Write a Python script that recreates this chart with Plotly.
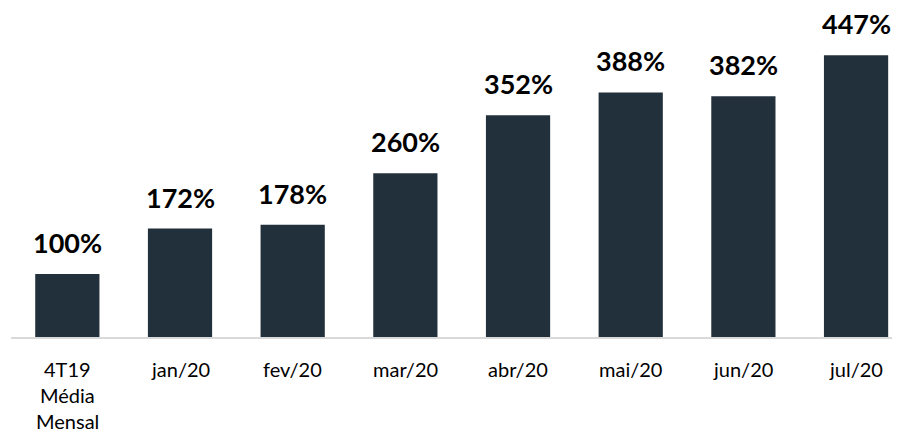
import plotly.graph_objects as go

categories = ["4T19\nMédia\nMensal", "jan/20", "fev/20", "mar/20", "abr/20", "mai/20", "jun/20", "jul/20"]
values = [100, 172, 178, 260, 352, 388, 382, 447]
labels = ["100%", "172%", "178%", "260%", "352%", "388%", "382%", "447%"]

bar_color = "#22303B"
font_family = "Lato, 'Open Sans', sans-serif"

xs = list(range(len(categories)))

fig = go.Figure()
fig.add_trace(go.Bar(x=xs, y=values, marker=dict(color=bar_color, line=dict(width=0)),
                     width=0.57, hoverinfo="skip"))

for x, v, lab in zip(xs, values, labels):
    fig.add_annotation(x=x, y=v, xref="x", yref="y", text=f"<b>{lab}</b>", showarrow=False,
                       yanchor="bottom", yshift=13, font=dict(family=font_family, size=27, color="#000000"))

for x, cat in zip(xs, categories):
    for i, line in enumerate(cat.split("\n")):
        fig.add_annotation(x=x, y=0, xref="x", yref="y", text=line, showarrow=False,
                           yanchor="middle", yshift=-(32 + 26 * i),
                           font=dict(family=font_family, size=20, color="#000000"))

fig.update_layout(
    width=900, height=435,
    margin=dict(l=3, r=8, t=0, b=106),
    paper_bgcolor="white", plot_bgcolor="white",
    showlegend=False,
    xaxis=dict(range=[-0.5, 7.39], showticklabels=False, showgrid=False, zeroline=False,
               showline=True, linecolor="#D9D9D9", linewidth=2, ticks=""),
    yaxis=dict(range=[0, 522], visible=False, showgrid=False, zeroline=False),
)

fig.write_html("out.html")
